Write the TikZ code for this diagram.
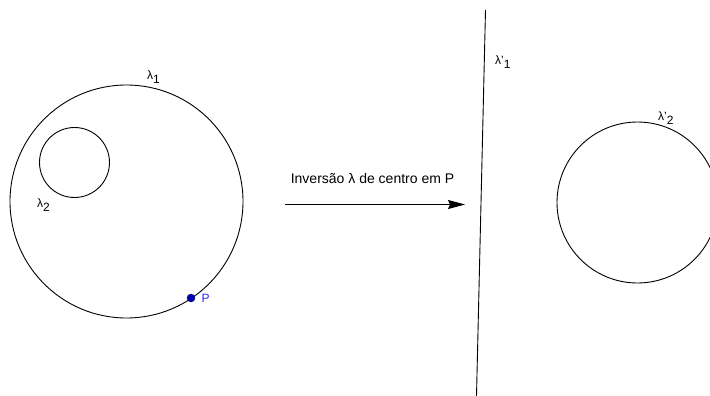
\documentclass[tikz,border=0pt]{standalone}
\usepackage{fontspec}
\setmainfont{Liberation Sans}
\usetikzlibrary{arrows.meta}
\tikzset{
  curve/.style={draw=black, line width=0.9pt},
  lbl/.style={inner sep=0pt, anchor=base west, font=\fontsize{12}{14}\selectfont},
}
\newcommand{\subidx}[1]{\raisebox{-4pt}{#1}}
\begin{document}
\begin{tikzpicture}[x=1pt,y=-1pt]
\useasboundingbox (0,0) rectangle (710,396);
% left figure
\node[curve, circle, minimum size=233pt, inner sep=0pt] (l1) at (126.5,201.5) {};
\node[curve, circle, minimum size=70pt, inner sep=0pt] (l2) at (74.5,162.5) {};
\node[circle, fill=blue!70!black, draw=blue!40!black, inner sep=0pt, minimum size=8pt] (p) at (191,298) {};
\node[lbl, text=blue!85!white] (pl) at (201.5,302.5) {P};
\node[lbl] (l1l) at (147,80) {λ\subidx{1}};
\node[lbl] (l2l) at (37,207) {λ\subidx{2}};
% arrow
\coordinate (a0) at (285,204.5);
\coordinate (a1) at (465,204.5);
\draw[line width=0.9pt, -{Stealth[length=17pt,width=9pt,inset=2pt]}] (a0) -- (a1);
\node[inner sep=0pt, anchor=base, font=\fontsize{14}{16}\selectfont] (t) at (372.5,183) {Inversão λ de centro em P};
% right figure
\coordinate (r0) at (485.5,10);
\coordinate (r1) at (476.5,396);
\draw[curve] (r0) -- (r1);
\node[lbl] (r1l) at (495,65) {λ'\subidx{1}};
\node[curve, circle, minimum size=161pt, inner sep=0pt] (r2) at (637.5,202.5) {};
\node[lbl] (r2l) at (658,121) {λ'\subidx{2}};
\end{tikzpicture}
\end{document}
